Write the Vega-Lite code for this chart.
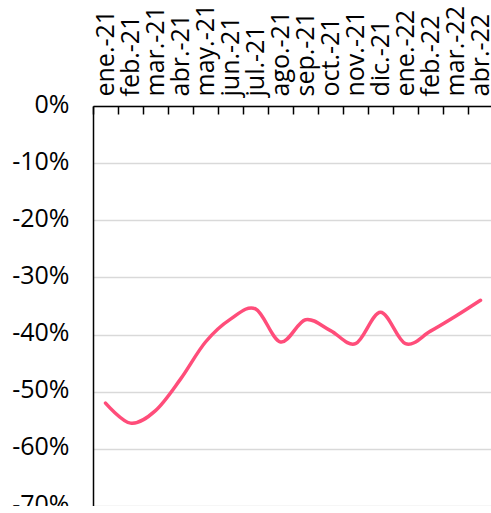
{
  "$schema": "https://vega.github.io/schema/vega-lite/v6.json",
  "autosize": {"type": "none"},
  "padding": {"left": 93, "top": 106, "right": 0, "bottom": 0},
  "width": 400,
  "height": 400,
  "background": "white",
  "config": {"view": {"stroke": null}, "font": "Open Sans"},
  "data": {"values": [
    {"mes": "ene.-21", "valor": -0.52},
    {"mes": "feb.-21", "valor": -0.555},
    {"mes": "mar.-21", "valor": -0.533},
    {"mes": "abr.-21", "valor": -0.478},
    {"mes": "may.-21", "valor": -0.413},
    {"mes": "jun.-21", "valor": -0.373},
    {"mes": "jul.-21", "valor": -0.355},
    {"mes": "ago.-21", "valor": -0.413},
    {"mes": "sep.-21", "valor": -0.374},
    {"mes": "oct.-21", "valor": -0.393},
    {"mes": "nov.-21", "valor": -0.416},
    {"mes": "dic.-21", "valor": -0.361},
    {"mes": "ene.-22", "valor": -0.416},
    {"mes": "feb.-22", "valor": -0.394},
    {"mes": "mar.-22", "valor": -0.368},
    {"mes": "abr.-22", "valor": -0.34}
  ]},
  "mark": {"type": "line", "interpolate": "cardinal", "tension": 0, "color": "#FF4D7A", "strokeWidth": 3.5, "strokeCap": "round"},
  "encoding": {
    "x": {
      "field": "mes", "type": "ordinal", "sort": null,
      "scale": {"type": "band", "paddingInner": 0, "paddingOuter": 0},
      "axis": {
        "orient": "top", "title": null, "labelAngle": -90, "labelFontSize": 25,
        "labelColor": "black", "domainColor": "black", "domainWidth": 1.5,
        "tickColor": "black", "tickWidth": 1.5, "tickSize": -8, "labelPadding": 18,
        "tickBand": "extent", "grid": false, "labelAlign": "left", "labelBaseline": "middle"
      }
    },
    "y": {
      "field": "valor", "type": "quantitative",
      "scale": {"domain": [-0.7, 0], "nice": false},
      "axis": {
        "title": null, "format": ".0%", "values": [0, -0.1, -0.2, -0.3, -0.4, -0.5, -0.6, -0.7],
        "labelExpr": "replace(datum.label, '\u2212', '-')",
        "labelFontSize": 25, "labelColor": "black", "ticks": false, "labelPadding": 24,
        "labelOffset": -2,
        "domainColor": "black", "domainWidth": 1.5, "gridColor": "#d9d9d9", "gridWidth": 1.5
      }
    }
  }
}
